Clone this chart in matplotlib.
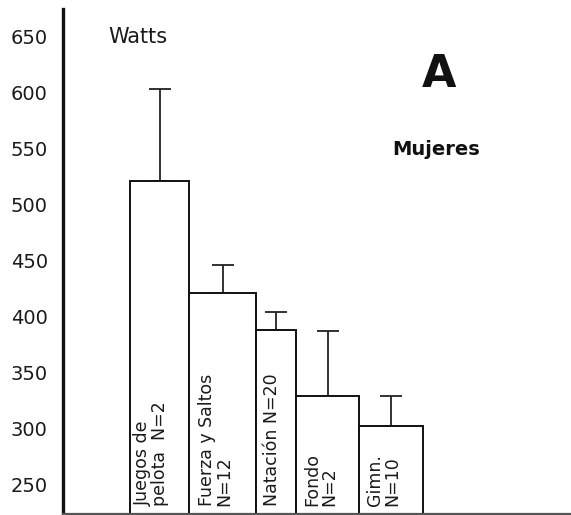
import matplotlib
matplotlib.use("Agg")
import matplotlib.pyplot as plt

categories = ["Juegos de\npelota  N=2", "Fuerza y Saltos\nN=12", "Natación N=20", "Fondo\nN=2", "Gimn.\nN=10"]
means = [521, 421, 388, 329, 302]
err_up = [82, 25, 16, 58, 27]
yticks = [250, 300, 350, 400, 450, 500, 550, 600, 650]

# bar geometry (pixel-like axis units)
lefts = [67, 126, 193, 233, 296]
widths = [59, 67, 40, 63, 64]
label_offsets = [4, 9, 7, 7, 7]

W, H = 571, 515
fig = plt.figure(figsize=(W / 100, H / 100), dpi=100)
ax = fig.add_axes([63 / W, 1 / H, (W - 63) / W, (514 - 9) / H])
ax.set_xlim(0, W - 63)
ax.set_ylim(223.2, 675)

ymin = 223.2
heights = [m - ymin for m in means]
ax.bar(lefts, heights, width=widths, bottom=ymin, align="edge",
       color="white", edgecolor="#111111", linewidth=1.4, zorder=2)
centers = [l + w / 2 for l, w in zip(lefts, widths)]
ax.errorbar(centers, means, yerr=[[0] * len(means), err_up], fmt="none",
            ecolor="#222222", elinewidth=1.3, capsize=8, capthick=1.3, zorder=1)

fs_lab = dict(family="DejaVu Sans", fontsize=12.5, color="#1a1a1a")
for l, off, cat in zip(lefts, label_offsets, categories):
    ax.text(l + off, 230, cat, rotation=90, ha="left", va="bottom",
            linespacing=0.95, **fs_lab)

ax.set_yticks(yticks)
ax.set_yticklabels([str(t) for t in yticks], fontsize=14, color="#1a1a1a")
ax.tick_params(axis="y", length=0, pad=11)
ax.set_xticks([])

for s in ["top", "right"]:
    ax.spines[s].set_visible(False)
ax.spines["left"].set_linewidth(2.4)
ax.spines["left"].set_color("#111111")
ax.spines["bottom"].set_linewidth(1.6)
ax.spines["bottom"].set_color("#555555")

ax.text(75, 650, "Watts", ha="center", va="center", fontsize=15, color="#1a1a1a")
ax.text(376, 616, "A", ha="center", va="center", fontsize=32, fontweight="bold", color="#111111")
ax.text(373, 549, "Mujeres", ha="center", va="center", fontsize=14, fontweight="bold", color="#111111")

fig.savefig("out.png", dpi=100)
